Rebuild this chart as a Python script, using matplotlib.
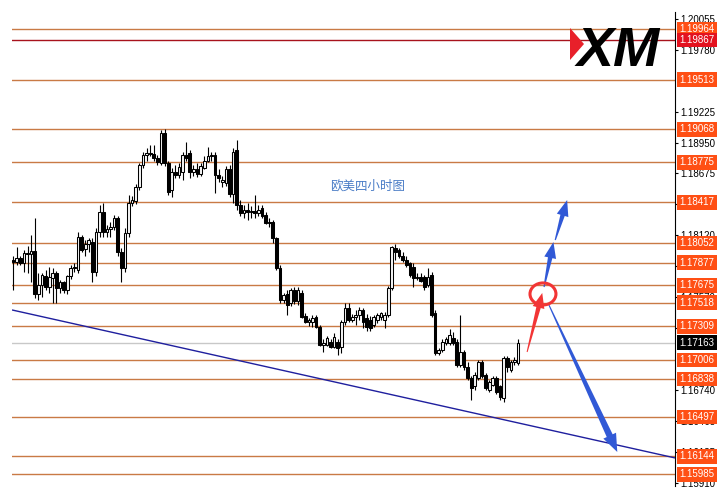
import matplotlib
matplotlib.use('Agg')
import matplotlib.pyplot as plt
import numpy as np
from matplotlib.patches import Polygon, Ellipse
from matplotlib.transforms import blended_transform_factory, IdentityTransform

plt.rcParams['font.family'] = ['Liberation Sans', 'DejaVu Sans']

# ---------------- data ----------------
opens = [1.1790, 1.1788, 1.1792, 1.1787, 1.1796, 1.1795, 1.1798, 1.1760, 1.1768, 1.1776,
         1.1766, 1.1774, 1.1778, 1.1765, 1.1770, 1.1763, 1.1776, 1.1783, 1.1781, 1.1811,
         1.1800, 1.1804, 1.1806, 1.1779, 1.1815, 1.1833, 1.1815, 1.1818, 1.1820, 1.1828,
         1.1797, 1.1783, 1.1814, 1.1841, 1.1843, 1.1855, 1.1875, 1.1884, 1.1886, 1.1885,
         1.1881, 1.1877, 1.1904, 1.1877, 1.1853, 1.1869, 1.1866, 1.1869, 1.1884, 1.1886,
         1.1869, 1.1871, 1.1867, 1.1872, 1.1879, 1.1883, 1.1884, 1.1866, 1.1860, 1.1859,
         1.1871, 1.1849, 1.1888, 1.1839, 1.1832, 1.1835, 1.1833, 1.1834, 1.1832, 1.1837,
         1.1830, 1.1823, 1.1824, 1.1810, 1.1783, 1.1754, 1.1760, 1.1752, 1.1763, 1.1753,
         1.1761, 1.1740, 1.1735, 1.1735, 1.1739, 1.1730, 1.1714, 1.1714, 1.1717, 1.1712,
         1.1717, 1.1712, 1.1735, 1.1747, 1.1736, 1.1739, 1.1741, 1.1745, 1.1738, 1.1736,
         1.1732, 1.1736, 1.1739, 1.1736, 1.1741, 1.1765, 1.1801, 1.1799, 1.1794, 1.1790,
         1.1787, 1.1784, 1.1775, 1.1775, 1.1775, 1.1768, 1.1777, 1.1743, 1.1707, 1.1710,
         1.1716, 1.1716, 1.1720, 1.1717, 1.1696, 1.1708, 1.1694, 1.1685, 1.1677, 1.1685,
         1.1699, 1.1687, 1.1674, 1.1678, 1.1685, 1.1677, 1.1667, 1.1702, 1.1692, 1.1699,
         1.1698]
highs = [1.1794, 1.1802, 1.1794, 1.1799, 1.1803, 1.1812, 1.1828, 1.1778, 1.1778, 1.1781,
         1.1784, 1.1783, 1.1780, 1.1772, 1.1771, 1.1777, 1.1786, 1.1787, 1.1815, 1.1812,
         1.1808, 1.1810, 1.1810, 1.1819, 1.1839, 1.1841, 1.1821, 1.1824, 1.1830, 1.1829,
         1.1801, 1.1819, 1.1848, 1.1847, 1.1858, 1.1877, 1.1887, 1.1890, 1.1893, 1.1893,
         1.1884, 1.1906, 1.1907, 1.1879, 1.1872, 1.1875, 1.1877, 1.1887, 1.1896, 1.1888,
         1.1875, 1.1877, 1.1877, 1.1883, 1.1891, 1.1887, 1.1887, 1.1871, 1.1865, 1.1874,
         1.1875, 1.1890, 1.1897, 1.1844, 1.1839, 1.1841, 1.1838, 1.1848, 1.1839, 1.1839,
         1.1833, 1.1828, 1.1826, 1.1811, 1.1786, 1.1761, 1.1763, 1.1765, 1.1766, 1.1766,
         1.1763, 1.1743, 1.1738, 1.1741, 1.1741, 1.1732, 1.1719, 1.1722, 1.1719, 1.1725,
         1.1719, 1.1736, 1.1752, 1.1752, 1.1742, 1.1745, 1.1748, 1.1747, 1.1742, 1.1740,
         1.1741, 1.1743, 1.1744, 1.1744, 1.1767, 1.1803, 1.1804, 1.1801, 1.1797, 1.1794,
         1.1788, 1.1787, 1.1778, 1.1778, 1.1777, 1.1783, 1.1779, 1.1745, 1.1711, 1.1719,
         1.1721, 1.1728, 1.1726, 1.1719, 1.1741, 1.1710, 1.1699, 1.1686, 1.1690, 1.1701,
         1.1701, 1.1689, 1.1683, 1.1686, 1.1686, 1.1678, 1.1704, 1.1704, 1.1701, 1.1703,
         1.1719]
lows = [1.1763, 1.1786, 1.1786, 1.1779, 1.1778, 1.1770, 1.1756, 1.1754, 1.1757, 1.1763,
        1.1761, 1.1752, 1.1752, 1.1761, 1.1761, 1.1760, 1.1773, 1.1779, 1.1778, 1.1797,
        1.1794, 1.1797, 1.1770, 1.1776, 1.1811, 1.1811, 1.1811, 1.1811, 1.1817, 1.1794,
        1.1770, 1.1779, 1.1811, 1.1838, 1.1840, 1.1853, 1.1872, 1.1879, 1.1883, 1.1879,
        1.1875, 1.1875, 1.1874, 1.1848, 1.1846, 1.1863, 1.1863, 1.1862, 1.1879, 1.1863,
        1.1865, 1.1864, 1.1865, 1.1871, 1.1878, 1.1879, 1.1850, 1.1860, 1.1855, 1.1856,
        1.1846, 1.1841, 1.1835, 1.1829, 1.1828, 1.1826, 1.1828, 1.1828, 1.1829, 1.1828,
        1.1822, 1.1820, 1.1805, 1.1781, 1.1752, 1.1752, 1.1741, 1.1749, 1.1751, 1.1750,
        1.1738, 1.1734, 1.1731, 1.1730, 1.1729, 1.1713, 1.1708, 1.1713, 1.1711, 1.1711,
        1.1705, 1.1707, 1.1732, 1.1735, 1.1735, 1.1732, 1.1736, 1.1729, 1.1727, 1.1727,
        1.1730, 1.1734, 1.1736, 1.1729, 1.1739, 1.1763, 1.1790, 1.1792, 1.1788, 1.1784,
        1.1775, 1.1766, 1.1772, 1.1770, 1.1763, 1.1766, 1.1739, 1.1705, 1.1705, 1.1708,
        1.1714, 1.1714, 1.1714, 1.1694, 1.1694, 1.1692, 1.1683, 1.1665, 1.1674, 1.1683,
        1.1685, 1.1674, 1.1672, 1.1677, 1.1670, 1.1665, 1.1663, 1.1690, 1.1690, 1.1696,
        1.1696]
closes = [1.1788, 1.1792, 1.1787, 1.1796, 1.1795, 1.1798, 1.1760, 1.1768, 1.1777, 1.1766,
          1.1775, 1.1778, 1.1765, 1.1770, 1.1763, 1.1776, 1.1783, 1.1784, 1.1811, 1.1799,
          1.1804, 1.1808, 1.1779, 1.1815, 1.1833, 1.1815, 1.1818, 1.1820, 1.1828, 1.1797,
          1.1783, 1.1814, 1.1841, 1.1844, 1.1855, 1.1875, 1.1884, 1.1886, 1.1885, 1.1881,
          1.1878, 1.1904, 1.1877, 1.1851, 1.1869, 1.1866, 1.1873, 1.1884, 1.1881, 1.1869,
          1.1871, 1.1867, 1.1874, 1.1879, 1.1883, 1.1884, 1.1866, 1.1863, 1.1862, 1.1871,
          1.1849, 1.1887, 1.1839, 1.1832, 1.1835, 1.1833, 1.1834, 1.1832, 1.1835, 1.1829,
          1.1823, 1.1824, 1.1810, 1.1783, 1.1754, 1.1759, 1.1750, 1.1763, 1.1753, 1.1763,
          1.1739, 1.1735, 1.1736, 1.1738, 1.1730, 1.1714, 1.1716, 1.1720, 1.1712, 1.1721,
          1.1711, 1.1735, 1.1747, 1.1736, 1.1739, 1.1741, 1.1745, 1.1735, 1.1730, 1.1729,
          1.1739, 1.1741, 1.1743, 1.1741, 1.1765, 1.1802, 1.1797, 1.1794, 1.1790, 1.1786,
          1.1777, 1.1774, 1.1774, 1.1771, 1.1766, 1.1775, 1.1741, 1.1707, 1.1710, 1.1717,
          1.1719, 1.1723, 1.1716, 1.1696, 1.1708, 1.1694, 1.1685, 1.1676, 1.1687, 1.1699,
          1.1686, 1.1676, 1.1681, 1.1685, 1.1672, 1.1668, 1.1702, 1.1694, 1.1699, 1.1701,
          1.17163]

levels = [1.19964, 1.19867, 1.19513, 1.19068, 1.18775, 1.18417, 1.18052, 1.17877,
          1.17675, 1.17518, 1.17309, 1.17006, 1.16838, 1.16497, 1.16144, 1.15985]
level_kind = ['o', 'r', 'o', 'o', 'o', 'o', 'o', 'o', 'o', 'o', 'o', 'o', 'o', 'o', 'o', 'o']
current_price = 1.17163
tick_vals = [1.20055, 1.19780, 1.19225, 1.18950, 1.18675, 1.18400, 1.18120,
             1.17845, 1.17570, 1.17295, 1.16740, 1.16465, 1.16185, 1.15910]
trend_x = [-0.3, 183.5]
trend_y = [1.17454, 1.16131]
title_text = '欧美四小时图'

# ---------------- figure ----------------
W, H = 718, 496
fig = plt.figure(figsize=(W / 100, H / 100), dpi=100)
fig.patch.set_facecolor('white')
ax = fig.add_axes([12 / W, 1 - 486 / H, (675 - 12) / W, (486 - 12) / H])
ax.set_xlim(-0.3, 183.5)
ax.set_ylim(1.15880, 1.20118)

line_col = {'o': '#c97a45', 'r': '#a8121c'}
box_col = {'o': '#ff4f14', 'r': '#e3121f'}
for lv, k in zip(levels, level_kind):
    ax.axhline(lv, color=line_col[k], lw=1.0, zorder=1)
ax.axhline(current_price, color='#c8c8c8', lw=1.0, zorder=1)

ax.plot(trend_x, trend_y, color='#1f1f9e', lw=1.0, zorder=2, solid_capstyle='butt')

o = np.array(opens); h = np.array(highs); l = np.array(lows); c = np.array(closes)
x = np.arange(len(o))
up = c >= o
ax.vlines(x, l, h, color='black', lw=0.8, zorder=3)
bh = np.maximum(np.abs(c - o), 0.00003)
bb = np.minimum(o, c)
ax.bar(x[up], bh[up], bottom=bb[up], width=0.75, facecolor='#f4f4f4',
       edgecolor='black', lw=0.75, zorder=4)
ax.bar(x[~up], bh[~up], bottom=bb[~up], width=0.75, facecolor='black',
       edgecolor='black', lw=0.75, zorder=4)

# axes styling
for s in ['top', 'left', 'bottom']:
    ax.spines[s].set_visible(False)
ax.spines['right'].set_linewidth(0.8)
ax.set_xticks([])
ax.yaxis.tick_right()
ax.set_yticks(tick_vals)
ax.set_yticklabels([f'{v:.5f}' for v in tick_vals])
ax.tick_params(axis='y', labelsize=7.0, length=2.5, width=0.8, pad=1.5, colors='black')

trans = blended_transform_factory(ax.transAxes, ax.transData)
for lv, k in zip(levels, level_kind):
    ax.text(1.0072, lv, f'{lv:.5f}', transform=trans, ha='left', va='center',
            fontsize=7.0, color='white', clip_on=False, zorder=10,
            bbox=dict(boxstyle='square,pad=0.24', fc=box_col[k], ec='none'))
ax.text(1.0072, current_price, f'{current_price:.5f}', transform=trans, ha='left',
        va='center', fontsize=7.0, color='white', clip_on=False, zorder=10,
        bbox=dict(boxstyle='square,pad=0.24', fc='black', ec='none'))

# title
ax.text(98.4, 1.18562, title_text, fontsize=9, color='#4a7cc6',
        family=['Noto Sans CJK SC', 'DejaVu Sans'], ha='center', va='center', zorder=6)


# tapered arrows (drawn in display space)
def taper_arrow(p0, p1, color, w0, w1, hw, hl):
    t = ax.transData
    x0, y0 = t.transform(p0)
    x1, y1 = t.transform(p1)
    dx, dy = x1 - x0, y1 - y0
    L = np.hypot(dx, dy)
    ux, uy = dx / L, dy / L
    nx, ny = -uy, ux
    kx, ky = x1 - ux * hl, y1 - uy * hl
    pts = [(x0 + nx * w0 / 2, y0 + ny * w0 / 2),
           (kx + nx * w1 / 2, ky + ny * w1 / 2),
           (kx + nx * hw / 2, ky + ny * hw / 2),
           (x1, y1),
           (kx - nx * hw / 2, ky - ny * hw / 2),
           (kx - nx * w1 / 2, ky - ny * w1 / 2),
           (x0 - nx * w0 / 2, y0 - ny * w0 / 2)]
    poly = Polygon(pts, closed=True, facecolor=color, edgecolor='none',
                   transform=IdentityTransform(), zorder=7, clip_on=False)
    ax.add_artist(poly)


blue = '#3159d6'
red = '#f23535'
taper_arrow((142.5, 1.17078), (146.7, 1.17606), red, 1.0, 4.5, 12, 15)
taper_arrow((147.2, 1.17659), (149.8, 1.18061), blue, 1.2, 4.5, 12, 16)
taper_arrow((150.3, 1.18079), (153.6, 1.18437), blue, 1.2, 4.5, 12, 16)
taper_arrow((148.3, 1.17516), (167.5, 1.16184), blue, 1.0, 6.5, 14, 18)

ax.add_patch(Ellipse((146.9, 1.17597), 7.2, 0.00197, fill=False, edgecolor=red,
                     lw=2.2, zorder=8))

# logo
fig.add_artist(Polygon([[570 / W, 1 - 28 / H], [584 / W, 1 - 44 / H], [570 / W, 1 - 60 / H]],
                       closed=True, transform=fig.transFigure, facecolor='#e8202a',
                       edgecolor='none', zorder=5))
fig.text(577 / W, 1 - 66 / H, 'XM', fontsize=40, fontweight='bold', fontstyle='italic',
         family='Liberation Sans', ha='left', va='baseline', color='black', zorder=6)

fig.savefig('out.png', dpi=100, facecolor='white')
